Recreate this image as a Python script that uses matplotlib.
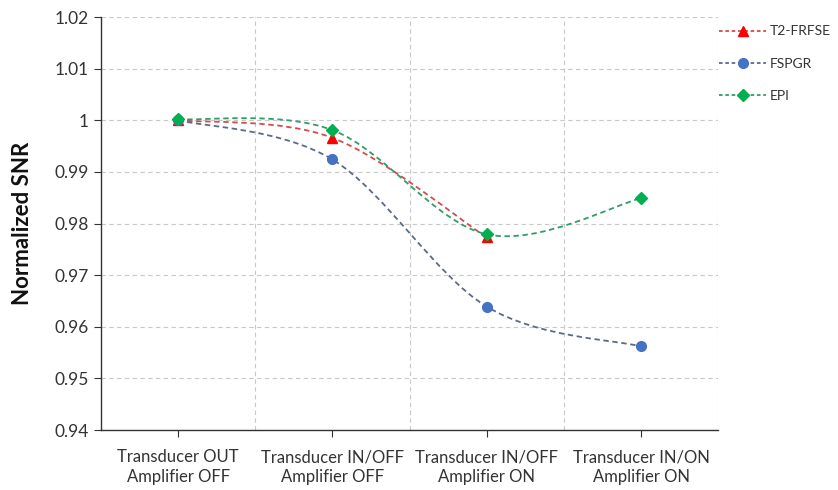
import matplotlib
matplotlib.use("Agg")
import matplotlib.pyplot as plt
from matplotlib.path import Path
from matplotlib.patches import PathPatch
from matplotlib.lines import Line2D
import numpy as np

plt.rcParams['font.family'] = ['Lato', 'DejaVu Sans']

categories = ["Transducer OUT\nAmplifier OFF", "Transducer IN/OFF\nAmplifier OFF",
              "Transducer IN/OFF\nAmplifier ON", "Transducer IN/ON\nAmplifier ON"]
t2_frfse = [1.0, 0.9966, 0.9773]
fspgr = [1.0, 0.9924, 0.9639, 0.9562]
epi = [1.0002, 0.9981, 0.9779, 0.9849]
yticks = [0.94, 0.95, 0.96, 0.97, 0.98, 0.99, 1.0, 1.01, 1.02]
ytick_labels = ["0.94", "0.95", "0.96", "0.97", "0.98", "0.99", "1", "1.01", "1.02"]

series = [
    ("T2-FRFSE", t2_frfse, "#ff0000", "#d84a4a", "^"),
    ("FSPGR", fspgr, "#4472c4", "#5a6b8a", "o"),
    ("EPI", epi, "#00b050", "#2e9e68", "D"),
]

fig = plt.figure(figsize=(8.38, 4.90), dpi=100)
ax = fig.add_axes([0.1205, 0.1224, 0.7365, 0.8429])


def smooth_path(xs, ys):
    pts = np.column_stack([xs, ys]).astype(float)
    n = len(pts)
    verts = [pts[0]]
    codes = [Path.MOVETO]
    for i in range(n - 1):
        p0 = pts[i - 1] if i > 0 else pts[i]
        p1 = pts[i]
        p2 = pts[i + 1]
        p3 = pts[i + 2] if i + 2 < n else pts[i + 1]
        c1 = p1 + (p2 - p0) / 6.0
        c2 = p2 - (p3 - p1) / 6.0
        verts += [c1, c2, p2]
        codes += [Path.CURVE4] * 3
    return Path(verts, codes)


handles = []
for name, vals, mcol, lcol, mk in series:
    xs = np.arange(len(vals))
    patch = PathPatch(smooth_path(xs, vals), facecolor="none", edgecolor=lcol,
                      lw=1.3, linestyle=(0, (3, 2)), zorder=3)
    ax.add_patch(patch)
    ms = 7.5 if mk == "^" else (6.5 if mk == "D" else 7)
    ax.plot(xs, vals, linestyle="none", marker=mk, color=mcol, markersize=ms, zorder=4)
    handles.append(Line2D([0], [0], color=lcol, lw=1.3, linestyle=(0, (2, 1.5)),
                          marker=mk, markerfacecolor=mcol, markeredgecolor=mcol,
                          markersize=ms, label=name))

ax.set_xlim(-0.5, 3.5)
ax.set_ylim(0.94, 1.02)
ax.set_yticks(yticks)
ax.set_yticklabels(ytick_labels, fontsize=12.5, color="#333333")
ax.set_xticks(range(len(categories)))
ax.set_xticklabels(categories, fontsize=12, color="#222222", linespacing=1.3)
ax.set_xticks([0.5, 1.5, 2.5, 3.5], minor=True)
ax.tick_params(axis="x", which="major", length=5, direction="out", pad=9, colors="#333333")
ax.tick_params(axis="x", which="minor", length=0)
ax.tick_params(axis="y", length=5, direction="out", pad=4, colors="#333333")

ax.grid(True, axis="y", which="major", color="#c8c8c8", linestyle=(0, (4, 3)), lw=0.8)
ax.grid(True, axis="x", which="minor", color="#c8c8c8", linestyle=(0, (4, 3)), lw=0.8)
ax.grid(False, axis="x", which="major")
ax.set_axisbelow(True)

for s in ["top", "right"]:
    ax.spines[s].set_visible(False)
for s in ["left", "bottom"]:
    ax.spines[s].set_color("#333333")
    ax.spines[s].set_linewidth(1.0)

ax.set_ylabel("Normalized SNR", fontsize=16, fontweight="bold", color="#111111", labelpad=15)

fig.legend(handles=handles, loc="upper left", bbox_to_anchor=(0.858, 0.948),
           frameon=False, fontsize=10, handlelength=3.4, handletextpad=0.25,
           labelspacing=1.45, labelcolor="#333333", borderpad=0, borderaxespad=0)

fig.savefig("out.png", dpi=100)
